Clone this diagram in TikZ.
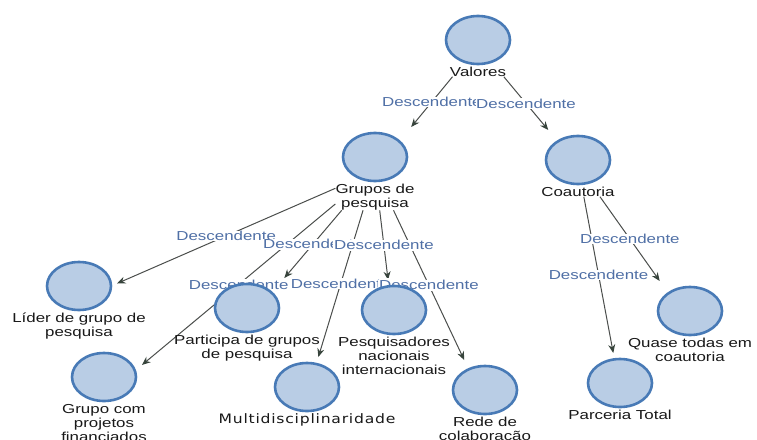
\documentclass[tikz,border=0pt]{standalone}
\usepackage{fontspec}
\setmainfont{Liberation Sans}[FakeStretch=1.3]
\newfontfamily\widefont{DejaVu Sans}[FakeStretch=1.2,LetterSpace=6]
\usetikzlibrary{arrows.meta,fit,intersections,shapes.geometric}
\pgfdeclarelayer{front}
\pgfsetlayers{main,front}

\definecolor{ringblue}{RGB}{72,122,182}
\definecolor{bubblefill}{RGB}{185,205,229}
\definecolor{edgegray}{RGB}{75,78,76}
\definecolor{tipgray}{RGB}{55,68,60}
\definecolor{labelblue}{RGB}{80,112,166}
\definecolor{captionink}{RGB}{25,25,25}

\tikzset{
  bubble/.style={ellipse, draw=ringblue, fill=bubblefill, line width=2.6pt,
    minimum width=64pt, minimum height=48pt, inner sep=0pt},
  hub/.style={rectangle, minimum width=76pt, minimum height=60pt,
    inner sep=0pt, outer sep=0pt},
  caption/.style={anchor=north, inner sep=0pt, align=center, text=captionink,
    font=\fontsize{13}{14}\selectfont},
  groupbox/.style={inner sep=0pt, outer sep=0pt},
  edge/.style={draw=edgegray, line width=1pt,
    -{Stealth[length=8.5pt,width=7pt,color=tipgray]}},
  lbl/.style={fill=white, inner sep=0.6pt, text=labelblue,
    font=\fontsize{13}{14}\selectfont},
}

% a concept: its bubble, the hit box round it, its caption and the box of both
\newcommand\placevertex[4]{%
  \node[bubble] (#1C) at (#2,#3) {};
  \node[hub] (#1H) at (#1C) {};
  \node[caption] (#1L) at ([yshift=-1.5pt]#1C.south) {#4};
  \node[groupbox, fit=(#1C)(#1L)] (#1G) {};
}

% an arrow aimed from box centre to box centre, ending on the target's hit box
\newcommand\linkedge[3]{%
  \path[name path=ln-#3] (#1G.center) -- (#2G.center);
  \path[name path=bx-#3] (#2H.north west) rectangle (#2H.south east);
  \path[name intersections={of=ln-#3 and bx-#3, by={tip-#3}}];
  \draw[edge] (#1G) -- coordinate[midway] (mid-#3) (tip-#3);
}

\begin{document}
\begin{tikzpicture}[x=1pt,y=-1pt]
\fill[white] (0,0) rectangle (757,439);
\useasboundingbox (0,0) rectangle (757,439);

\begin{pgfonlayer}{front}
  \placevertex{val}{478}{40}{Valores}
  \placevertex{grp}{375}{157}{Grupos de\\pesquisa}
  \placevertex{coa}{578}{160}{Coautoria}
  \placevertex{lid}{79}{286}{Líder de grupo de\\pesquisa}
  \placevertex{gcp}{104}{377}{Grupo com\\projetos\\financiados}
  \placevertex{par}{247}{308}{Participa de grupos\\de pesquisa}
  \placevertex{mul}{307}{387}{{\widefont Multidisciplinaridade}}
  \placevertex{pes}{394}{310}{Pesquisadores\\nacionais\\internacionais}
  \placevertex{red}{485}{390}{Rede de\\colaboração}
  \placevertex{qua}{690}{311}{Quase todas em\\coautoria}
  \placevertex{pt}{620}{383}{Parceria Total}
\end{pgfonlayer}

\linkedge{val}{grp}{a}
\linkedge{val}{coa}{b}
\linkedge{grp}{lid}{c}
\linkedge{grp}{gcp}{d}
\linkedge{grp}{par}{e}
\linkedge{grp}{mul}{f}
\linkedge{grp}{pes}{g}
\linkedge{grp}{red}{h}
\linkedge{coa}{qua}{i}
\linkedge{coa}{pt}{j}

\node[lbl] (la) at (mid-a) {Descendente};
\node[lbl] (lb) at (mid-b) {Descendente};
\node[lbl] (lc) at (mid-c) {Descendente};
\node[lbl] (ld) at (mid-d) {Descendente};
\node[lbl] (le) at (mid-e) {Descendente};
\node[lbl] (lf) at (mid-f) {Descendente};
\node[lbl] (lg) at (mid-g) {Descendente};
\node[lbl] (lh) at (mid-h) {Descendente};
\node[lbl] (li) at (mid-i) {Descendente};
\node[lbl] (lj) at (mid-j) {Descendente};
\end{tikzpicture}
\end{document}
